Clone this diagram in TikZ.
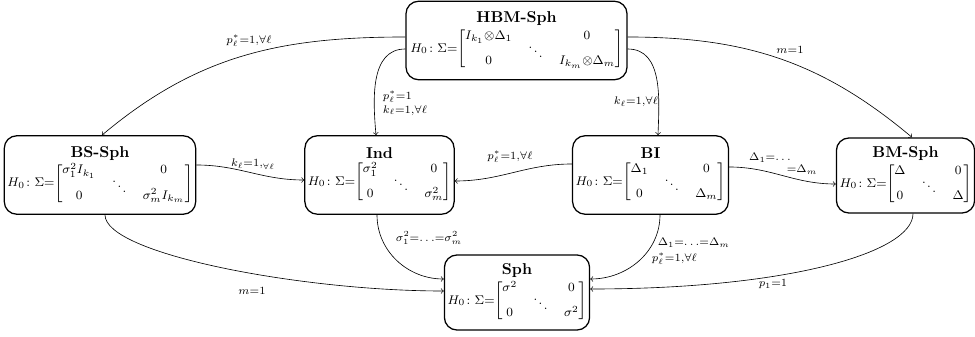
\documentclass[tikz,border=0pt]{standalone}
\usepackage{amsmath}
\usetikzlibrary{calc}
\newcommand{\hz}{$H_0\colon\Sigma{=}$}
\newcommand{\dd}{\smash{\raisebox{-12.5pt}{$\ddots$}}}
\newcommand{\mymat}[4]{$\begin{bmatrix}#1 & \dd & #2\\[6.5pt] #3 & & #4\end{bmatrix}$}
\begin{document}
\begin{tikzpicture}[x=0.637pt,y=0.637pt,
  box/.style={draw, thick, rounded corners=8pt, align=center, inner sep=2pt, minimum height=50pt},
  lab/.style={font=\scriptsize, inner sep=1pt},
  conn/.style={->, thin}]
\useasboundingbox (0,0) rectangle (975,-337);

\node[box, minimum width=140.8pt] (hbm) at (516.5,-40.5)
  {\textbf{HBM-Sph}\\[1pt] \footnotesize\hz\mymat{I_{k_1}{\otimes}\Delta_1}{0}{0}{I_{k_m}{\otimes}\Delta_m}};
\node[box, minimum width=118.5pt] (bs) at (100,-175)
  {\textbf{BS-Sph}\\[1pt] \footnotesize\hz\mymat{\sigma_1^2 I_{k_1}}{0}{0}{\sigma_m^2 I_{k_m}}};
\node[box, minimum width=92.4pt] (ind) at (379.5,-175)
  {\textbf{Ind}\\[1pt] \footnotesize\hz\mymat{\sigma_1^2}{0}{0}{\sigma_m^2}};
\node[box, minimum width=98.7pt] (bi) at (650.5,-175)
  {\textbf{BI}\\[1pt] \footnotesize\hz\mymat{\Delta_1}{0}{0}{\Delta_m}};
\node[box, minimum width=84.7pt, minimum height=47.8pt] (bm) at (905.5,-175.5)
  {\textbf{BM-Sph}\\[1pt] \footnotesize\hz\mymat{\Delta}{0}{0}{\Delta}};
\node[box, minimum width=91.7pt, minimum height=47.8pt] (sph) at (517,-292.5)
  {\textbf{Sph}\\[1pt] \footnotesize\hz\mymat{\sigma^2}{0}{0}{\sigma^2}};

% connectors
\draw[conn] ($(hbm.west)+(0,3.5)$) to[out=180,in=40] ($(bs.north)+(2,0)$);
\draw[conn] ($(hbm.west)+(0,-8.5)$) to[out=180,in=95] ($(ind.north)+(-3.5,0)$);
\draw[conn] ($(hbm.east)+(0,-8.5)$) to[out=0,in=88] ($(bi.north)+(7.5,0)$);
\draw[conn] ($(hbm.east)+(0,3.5)$) to[out=0,in=140] ($(bm.north)+(6.5,0)$);
\draw[conn] ($(bs.east)+(0,10)$) to[out=0,in=180] ($(ind.west)+(0,-5)$);
\draw[conn] ($(bi.west)+(0,11)$) to[out=180,in=0] ($(ind.east)+(0,-6)$);
\draw[conn] ($(bi.east)+(0,8)$) to[out=0,in=180] ($(bm.west)+(0,-8.5)$);
\draw[conn] ($(bs.south)+(5,0)$) to[out=-90,in=180,out distance=25pt,in distance=90pt] ($(sph.west)+(0,1.5)$);
\draw[conn] ($(ind.south)+(-2.5,0)$) to[out=-90,in=180] ($(sph.west)+(0,13.5)$);
\draw[conn] ($(bi.south)+(9.5,0)$) to[out=-90,in=0] ($(sph.east)+(0,13.5)$);
\draw[conn] ($(bm.south)+(7.5,0)$) to[out=-90,in=0,out distance=25pt,in distance=125pt] ($(sph.east)+(0,3.5)$);

% labels
\node[lab] (l1) at (249,-41) {$p^*_\ell{=}1{,}\forall\ell$};
\node[lab, align=left, anchor=west] (l2) at (381,-103) {$p^*_\ell{=}1$\\[1pt]$k_\ell{=}1{,}\forall\ell$};
\node[lab] (l3) at (636,-102) {$k_\ell{=}1{,}\forall\ell$};
\node[lab] (l4) at (790,-50) {$m{=}1$};
\node[lab] (l5) at (253,-164) {$k_\ell{=}1{,}_{\forall\ell}$};
\node[lab] (l6) at (510,-157) {$p^*_\ell{=}1{,}\forall\ell$};
\node[lab] (l7a) at (770,-158) {$\Delta_1{=}{\ldots}$};
\node[lab] (l7b) at (802,-170) {${=}\Delta_m$};
\node[lab] (l8) at (252,-291) {$m{=}1$};
\node[lab] (l9) at (429,-238) {$\sigma_1^2{=}{\ldots}{=}\sigma_m^2$};
\node[lab, anchor=west] (l10a) at (656,-243) {$\Delta_1{=}{\ldots}{=}\Delta_m$};
\node[lab, anchor=west] (l10b) at (650,-259) {$p^*_\ell{=}1{,}\forall\ell$};
\node[lab] (l11) at (773,-284) {$p_1{=}1$};
\end{tikzpicture}
\end{document}
